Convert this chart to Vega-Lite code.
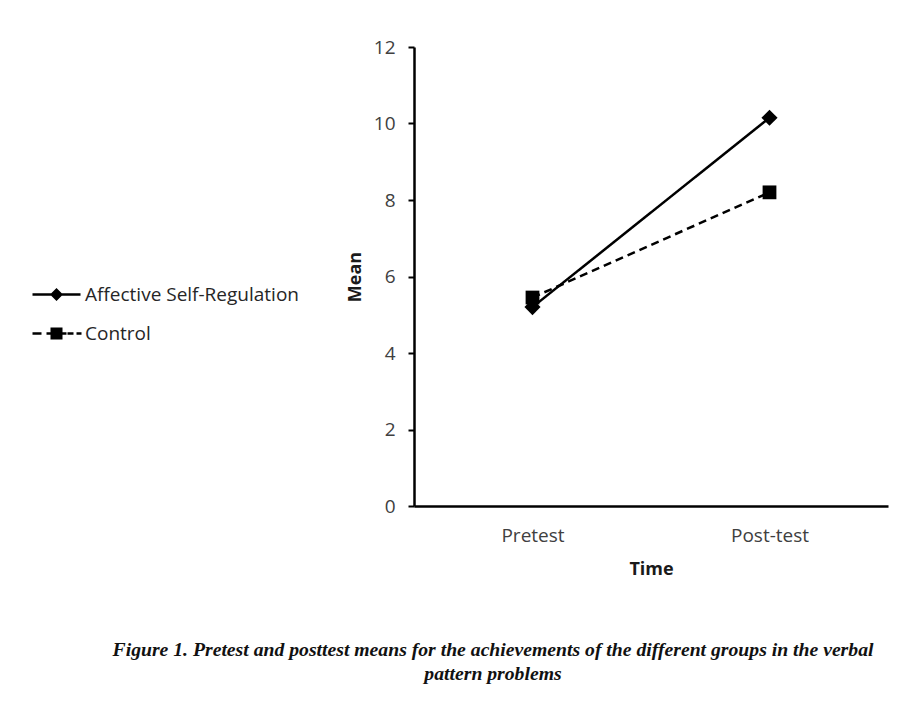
{
  "$schema": "https://vega.github.io/schema/vega-lite/v6.json",
  "autosize": "none",
  "width": 474,
  "height": 459,
  "padding": {"left": 414, "top": 47, "right": 12, "bottom": 211},
  "background": "white",
  "data": {
    "values": [
      {"time": "Pretest", "group": "Affective Self-Regulation", "mean": 5.2},
      {"time": "Post-test", "group": "Affective Self-Regulation", "mean": 10.15},
      {"time": "Pretest", "group": "Control", "mean": 5.45},
      {"time": "Post-test", "group": "Control", "mean": 8.2}
    ]
  },
  "title": {
    "text": ["Figure 1. Pretest and posttest means for the achievements of the different groups in the verbal", "pattern problems"],
    "orient": "bottom",
    "anchor": "middle",
    "dx": -158,
    "offset": 62,
    "font": "Liberation Serif",
    "fontSize": 19.7,
    "fontStyle": "italic",
    "fontWeight": "bold",
    "color": "#111111",
    "lineHeight": 24
  },
  "encoding": {
    "x": {
      "field": "time",
      "type": "ordinal",
      "sort": ["Pretest", "Post-test"],
      "scale": {"type": "point", "padding": 0.5},
      "axis": {
        "title": "Time",
        "labelAngle": 0,
        "ticks": false,
        "tickSize": 0,
        "labelPadding": 20,
        "titlePadding": 15
      }
    },
    "y": {
      "field": "mean",
      "type": "quantitative",
      "scale": {"domain": [0, 12], "nice": false, "zero": true},
      "axis": {
        "title": "Mean",
        "values": [0, 2, 4, 6, 8, 10, 12],
        "grid": false,
        "ticks": true,
        "tickSize": 6,
        "tickWidth": 2,
        "tickColor": "black",
        "labelPadding": 13,
        "titlePadding": 9
      }
    }
  },
  "layer": [
    {
      "transform": [{"filter": "datum.mean < 0"}],
      "mark": {"type": "point", "filled": true, "color": "black", "size": 100, "opacity": 1},
      "encoding": {
        "shape": {
          "field": "group",
          "type": "nominal",
          "scale": {
            "domain": ["Affective Self-Regulation", "Control"],
            "range": [
              "M-4.8,-0.25H4.8V0.25H-4.8Z M0,-1.3L1.3,0L0,1.3L-1.3,0Z",
              "M-4.8,-0.25H-3.0V0.25H-4.8Z M-2.0,-0.25H2.0V0.25H-2.0Z M-1.2,-1.2H1.2V1.2H-1.2Z M2.2,-0.25H3.4V0.25H2.2Z M4.0,-0.25H5.0V0.25H4.0Z"
            ]
          },
          "legend": {
            "title": null,
            "orient": "none",
            "legendX": -367,
            "legendY": 238,
            "labelOffset": 19,
            "rowPadding": 19,
            "symbolSize": 100,
            "symbolFillColor": "black",
            "symbolStrokeWidth": 0,
            "labelFont": "Open Sans",
            "labelFontSize": 19,
            "labelColor": "#262626",
            "labelLimit": 400,
            "encode": {
              "symbols": {
                "fill": {"value": "black"},
                "strokeWidth": {"value": 0}
              }
            }
          }
        }
      }
    },
    {
      "mark": {"type": "line", "color": "black", "strokeWidth": 2.5},
      "encoding": {
        "detail": {"field": "group", "type": "nominal"},
        "strokeDash": {
          "field": "group",
          "type": "nominal",
          "scale": {
            "domain": ["Affective Self-Regulation", "Control"],
            "range": [[1, 0], [8, 5]]
          },
          "legend": null
        }
      }
    },
    {
      "mark": {"type": "point", "filled": true, "color": "black", "opacity": 1},
      "encoding": {
        "shape": {
          "field": "group",
          "type": "nominal",
          "scale": {"domain": ["Affective Self-Regulation", "Control"], "range": ["diamond", "square"]},
          "legend": null
        },
        "size": {
          "field": "group",
          "type": "nominal",
          "scale": {"domain": ["Affective Self-Regulation", "Control"], "range": [260, 190]},
          "legend": null
        }
      }
    }
  ],
  "resolve": {
    "scale": {"shape": "independent", "size": "independent"},
    "legend": {"shape": "independent"}
  },
  "config": {
    "view": {"stroke": null},
    "axis": {
      "domainColor": "black",
      "domainWidth": 2.5,
      "labelFont": "Open Sans",
      "labelFontSize": 19,
      "labelColor": "#404040",
      "titleFont": "Open Sans",
      "titleFontSize": 18,
      "titleFontWeight": "bold",
      "titleColor": "#1a1a1a"
    }
  }
}
